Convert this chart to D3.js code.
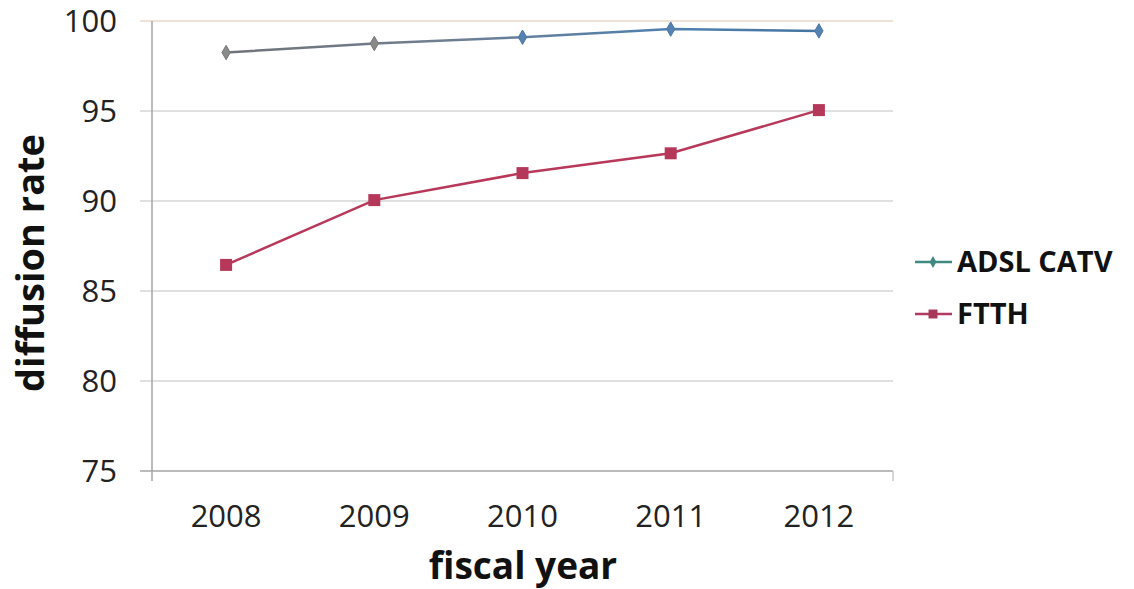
<!DOCTYPE html>
<html>
<head>
<meta charset="utf-8">
<script src="https://cdn.jsdelivr.net/npm/d3@7"></script>
<style>
body { margin: 0; background: #fff; }
text { font-family: "Open Sans", "Liberation Sans", sans-serif; }
</style>
</head>
<body>
<div id="canvas"></div>
<script>
var width = 1134,
	height = 589;

// data
var years = ["2008", "2009", "2010", "2011", "2012"];
var adsl = [98.25, 98.75, 99.1, 99.55, 99.45];
var ftth = [86.45, 90.05, 91.55, 92.65, 95.05];
var yTicks = [75, 80, 85, 90, 95, 100];
var seriesNames = ["ADSL CATV", "FTTH"];

var margin = {left: 152, right: 241, top: 21, bottom: 118};

var svg = d3.select("#canvas").append("svg")
	.attr("width", width)
	.attr("height", height)

var x = d3.scaleBand()
	.domain(years)
	.range([margin.left, width - margin.right])

var y = d3.scaleLinear()
	.domain([75, 100])
	.range([height - margin.bottom, margin.top])

// gradient for the grey -> blue line
var defs = svg.append("defs");
var grad = defs.append("linearGradient")
	.attr("id", "adslGrad")
	.attr("gradientUnits", "userSpaceOnUse")
	.attr("x1", x("2008")).attr("x2", x("2012") + x.bandwidth())
	.attr("y1", 0).attr("y2", 0);
grad.append("stop").attr("offset", "0%").attr("stop-color", "#707070");
grad.append("stop").attr("offset", "40%").attr("stop-color", "#6f7f92");
grad.append("stop").attr("offset", "70%").attr("stop-color", "#4f80b0");
grad.append("stop").attr("offset", "100%").attr("stop-color", "#3f6f99");

// gridlines
svg.append("g")
	.selectAll("line")
	.data(yTicks)
	.enter()
	.append("line")
	.attr("x1", margin.left - 12)
	.attr("x2", width - margin.right)
	.attr("y1", function(d){ return y(d) })
	.attr("y2", function(d){ return y(d) })
	.attr("stroke", function(d){
		if (d == 75) return "#a6a6a6";
		if (d == 100) return "#e8d9c8";
		return "#d6d6d6";
	})
	.attr("stroke-width", 1.5)

// y axis line
svg.append("line")
	.attr("x1", margin.left).attr("x2", margin.left)
	.attr("y1", y(100)).attr("y2", y(75) + 10)
	.attr("stroke", "#a6a6a6")
	.attr("stroke-width", 1.5)

svg.append("line")
	.attr("x1", width - margin.right).attr("x2", width - margin.right)
	.attr("y1", y(75)).attr("y2", y(75) + 10)
	.attr("stroke", "#c8c8c8")
	.attr("stroke-width", 1.5)

// y tick labels
svg.append("g")
	.selectAll("text")
	.data(yTicks)
	.enter()
	.append("text")
	.attr("x", margin.left - 35)
	.attr("y", function(d){ return y(d) })
	.attr("dy", "0.36em")
	.attr("text-anchor", "end")
	.attr("font-size", 31)
	.attr("fill", "#222")
	.text(function(d){ return d })

// x tick labels
svg.append("g")
	.selectAll("text")
	.data(years)
	.enter()
	.append("text")
	.attr("x", function(d){ return x(d) + x.bandwidth() / 2 })
	.attr("y", y(75) + 56)
	.attr("text-anchor", "middle")
	.attr("font-size", 31)
	.attr("fill", "#222")
	.text(function(d){ return d })

// axis titles
svg.append("text")
	.attr("x", 523)
	.attr("y", 579)
	.attr("text-anchor", "middle")
	.attr("font-size", 37)
	.attr("font-weight", "bold")
	.attr("fill", "#111")
	.text("fiscal year")

svg.append("text")
	.attr("transform", "translate(44,263) rotate(-90)")
	.attr("text-anchor", "middle")
	.attr("font-size", 38)
	.attr("font-weight", "bold")
	.attr("fill", "#111")
	.text("diffusion rate")

var line = d3.line()
	.x(function(d, i){ return x(years[i]) + x.bandwidth() / 2 })
	.y(function(d){ return y(d) })

// ADSL CATV
svg.append("path")
	.datum(adsl)
	.attr("d", line)
	.attr("fill", "none")
	.attr("stroke", "url(#adslGrad)")
	.attr("stroke-width", 2.5)

svg.append("g")
	.selectAll("path")
	.data(adsl)
	.enter()
	.append("path")
	.attr("d", d3.symbol().type(d3.symbolDiamond).size(60))
	.attr("transform", function(d, i){
		return "translate(" + (x(years[i]) + x.bandwidth() / 2) + "," + y(d) + ")"
	})
	.attr("fill", function(d, i){ return i < 2 ? "#8a8a8a" : "#5582b0" })
	.attr("stroke", function(d, i){ return i < 2 ? "#777" : "#4a76a3" })

// FTTH
svg.append("path")
	.datum(ftth)
	.attr("d", line)
	.attr("fill", "none")
	.attr("stroke", "#b8385a")
	.attr("stroke-width", 2.5)

svg.append("g")
	.selectAll("rect")
	.data(ftth)
	.enter()
	.append("rect")
	.attr("x", function(d, i){ return x(years[i]) + x.bandwidth() / 2 - 6 })
	.attr("y", function(d){ return y(d) - 6 })
	.attr("width", 12)
	.attr("height", 12)
	.attr("fill", "#b5385a")

// legend
var legend = svg.append("g")
	.selectAll("g")
	.data(seriesNames)
	.enter()
	.append("g")
	.attr("transform", function(d, i){ return "translate(915," + (262 + i * 52) + ")" })

legend.append("line")
	.attr("x1", 0).attr("x2", 37)
	.attr("stroke", function(d, i){ return i == 0 ? "#3f8a80" : "#b03a60" })
	.attr("stroke-width", 2.5)

legend.append("path")
	.attr("d", function(d, i){
		return d3.symbol().type(i == 0 ? d3.symbolDiamond : d3.symbolSquare).size(i == 0 ? 40 : 80)()
	})
	.attr("transform", "translate(18,0)")
	.attr("fill", function(d, i){ return i == 0 ? "#3f8a80" : "#a8385a" })

legend.append("text")
	.attr("x", 42)
	.attr("dy", "0.36em")
	.attr("font-size", 29)
	.attr("font-weight", "bold")
	.attr("fill", "#111")
	.text(function(d){ return d })
</script>
</body>
</html>
